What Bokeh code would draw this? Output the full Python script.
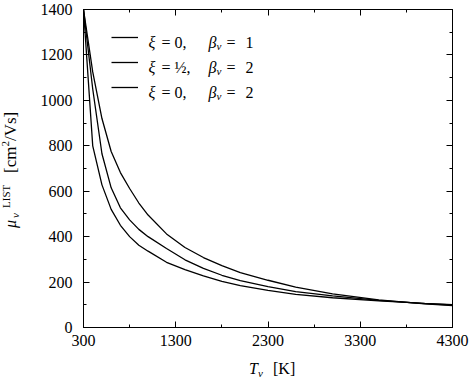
import math
from bokeh.plotting import figure
from bokeh.models import Range1d, FixedTicker, LinearAxis, Label, Legend, LegendItem, Div
from bokeh.layouts import row, column
from bokeh.embed import file_html
from bokeh.resources import INLINE

# ---- data ----
T = [300, 400, 500, 600, 700, 800, 900, 1000, 1200, 1400, 1600, 1800,
     2000, 2300, 2600, 3000, 3500, 4000, 4300]
mu_xi0_b1 = [1400, 1125, 920, 775, 682, 612, 548, 495, 412, 352, 308, 272,
             242, 208, 178, 148, 122, 104, 96]
mu_xihalf_b2 = [1400, 1050, 765, 615, 527, 474, 432, 400, 348, 298, 260, 230,
                206, 180, 158, 139, 119, 105, 99]
mu_xi0_b2 = [1400, 800, 628, 520, 450, 400, 362, 336, 287, 255, 227, 203,
             184, 163, 146, 131, 117, 106, 101]

x_ticks = [300, 1300, 2300, 3300, 4300]
x_minor = [800, 1800, 2800, 3800]
y_ticks = [0, 200, 400, 600, 800, 1000, 1200, 1400]
y_minor = [100, 300, 500, 700, 900, 1100, 1300]

legend_xi = ["0,", "\u00bd,", "0,"]
legend_beta = ["1", "2", "2"]

FONT = "Liberation Serif"

# ---- layout (page px) ----
YW = 26                      # width of the y-label strip
PW, PH = 470 - YW, 356       # figure size
XH = 379 - PH                # height of the x-label strip
BL, BR, BT, BB = 83 - YW, 18, 9, 29
FL = YW + BL                 # frame left (page)
FT = BT                      # frame top (page)
FB = PH - BB                 # frame bottom (page)

p = figure(width=PW, height=PH, output_backend="svg", toolbar_location=None,
           x_range=Range1d(300, 4300), y_range=Range1d(0, 1400),
           x_axis_type=None, y_axis_type=None,
           min_border_left=BL, min_border_right=BR,
           min_border_top=BT, min_border_bottom=BB)
p.outline_line_color = "black"
p.outline_line_width = 1
p.background_fill_color = "white"
p.border_fill_color = "white"


def style_axis(ax, ticks, minor, labels=True):
    ax.ticker = FixedTicker(ticks=ticks, minor_ticks=minor)
    ax.axis_line_color = "black"
    ax.major_tick_line_color = "black"
    ax.minor_tick_line_color = "black"
    ax.major_tick_in = 6
    ax.major_tick_out = 0
    ax.minor_tick_in = 3
    ax.minor_tick_out = 0
    ax.major_label_text_font = FONT
    ax.major_label_text_font_size = "16px"
    ax.major_label_text_color = "black"
    if not labels:
        ax.major_label_overrides = {t: "" for t in ticks}
        ax.major_label_standoff = 0


xb = LinearAxis()
style_axis(xb, x_ticks, x_minor)
xb.major_label_standoff = 7
p.add_layout(xb, "below")

yl = LinearAxis()
style_axis(yl, y_ticks, y_minor)
yl.major_label_standoff = 11
p.add_layout(yl, "left")

xt = LinearAxis()
style_axis(xt, x_ticks, x_minor, labels=False)
p.add_layout(xt, "above")

yr = LinearAxis()
style_axis(yr, y_ticks, y_minor, labels=False)
p.add_layout(yr, "right")

r1 = p.line(T, mu_xi0_b1, line_color="black", line_width=1.3)
r2 = p.line(T, mu_xihalf_b2, line_color="black", line_width=1.3)
r3 = p.line(T, mu_xi0_b2, line_color="black", line_width=1.3)

# ---- legend (line samples) ----
row_y = [37, 62, 87]          # page y of the legend lines
leg_top = row_y[0] - 10
leg = Legend(items=[LegendItem(label=" ", renderers=[r]) for r in (r1, r2, r3)],
             location=(111 - FL, FB - (leg_top + 70)),
             glyph_width=27, glyph_height=20, label_width=0, label_height=20,
             label_standoff=0, spacing=5, padding=0, margin=0,
             border_line_alpha=0, background_fill_alpha=0,
             label_text_font_size="13px")
p.add_layout(leg)


def lab(text, px, py, size=16, italic=False):
    # text inside the frame, (px, py) = page position of the baseline start
    p.add_layout(Label(x=px - FL, y=FB - py, x_units="screen", y_units="screen",
                       text=text, text_font=FONT, text_font_size=f"{size}px",
                       text_font_style="italic" if italic else "normal",
                       text_align="left", text_baseline="alphabetic",
                       text_color="black"))


for xi, beta, ly in zip(legend_xi, legend_beta, row_y):
    base = ly + 5
    lab("\u03be", 148, base, italic=True)
    lab("=", 161, base)
    lab(xi, 174, base)
    lab("\u03b2", 208, base, italic=True)
    lab("\u03bd", 216, base + 3, size=11, italic=True)
    lab("=", 226, base)
    lab(beta, 245, base)


# ---- axis labels as HTML text ----
def span(txt, left, top, size=16, italic=False):
    st = "italic" if italic else "normal"
    return (f'<span style="position:absolute;left:{left}px;top:{top}px;'
            f'font-size:{size}px;font-style:{st};line-height:1;white-space:nowrap;">'
            f'{txt}</span>')


BASE16 = 13.4   # baseline offset inside a 16px line box
BASE17 = 14.2
BASE11 = 9.2

# x label: T_nu  [K]   (baselines at page y 374 / 377)
x0 = PH
xhtml = (f'<div style="position:relative;width:470px;height:{XH}px;'
         f"font-family:'{FONT}',serif;color:#000;\">"
         + span("T", 249, 374 - BASE16 - x0, italic=True)
         + span("\u03bd", 258, 377 - BASE11 - x0, size=11, italic=True)
         + span("[K]", 273, 374 - BASE16 - x0)
         + "</div>")
xdiv = Div(text=xhtml, width=470, height=XH, margin=0)

# y label: mu_nu^LIST  [cm^2/Vs], rotated; starts at page y 228, baseline page x 16
yb = 16
yhtml = (f'<div style="position:relative;width:{YW}px;height:{PH}px;'
         f"font-family:'{FONT}',serif;color:#000;\">"
         f'<div style="position:absolute;left:0px;top:228px;width:140px;height:24px;'
         f'transform-origin:0 0;transform:rotate(-90deg);">'
         + span("\u03bc", 0, yb - BASE16, italic=True)
         + span("\u03bd", 10, yb + 3 - BASE11, size=11, italic=True)
         + span("LIST", 20, yb - 6 - BASE11, size=11)
         + span("[cm<sup style=\"font-size:11px;line-height:0\">2</sup>/Vs]",
                55, yb - BASE17, size=17)
         + "</div></div>")
ydiv = Div(text=yhtml, width=YW, height=PH, margin=0)

layout = column(row(ydiv, p, spacing=0), xdiv, spacing=0)

open("out.html", "w").write(file_html(layout, INLINE))
